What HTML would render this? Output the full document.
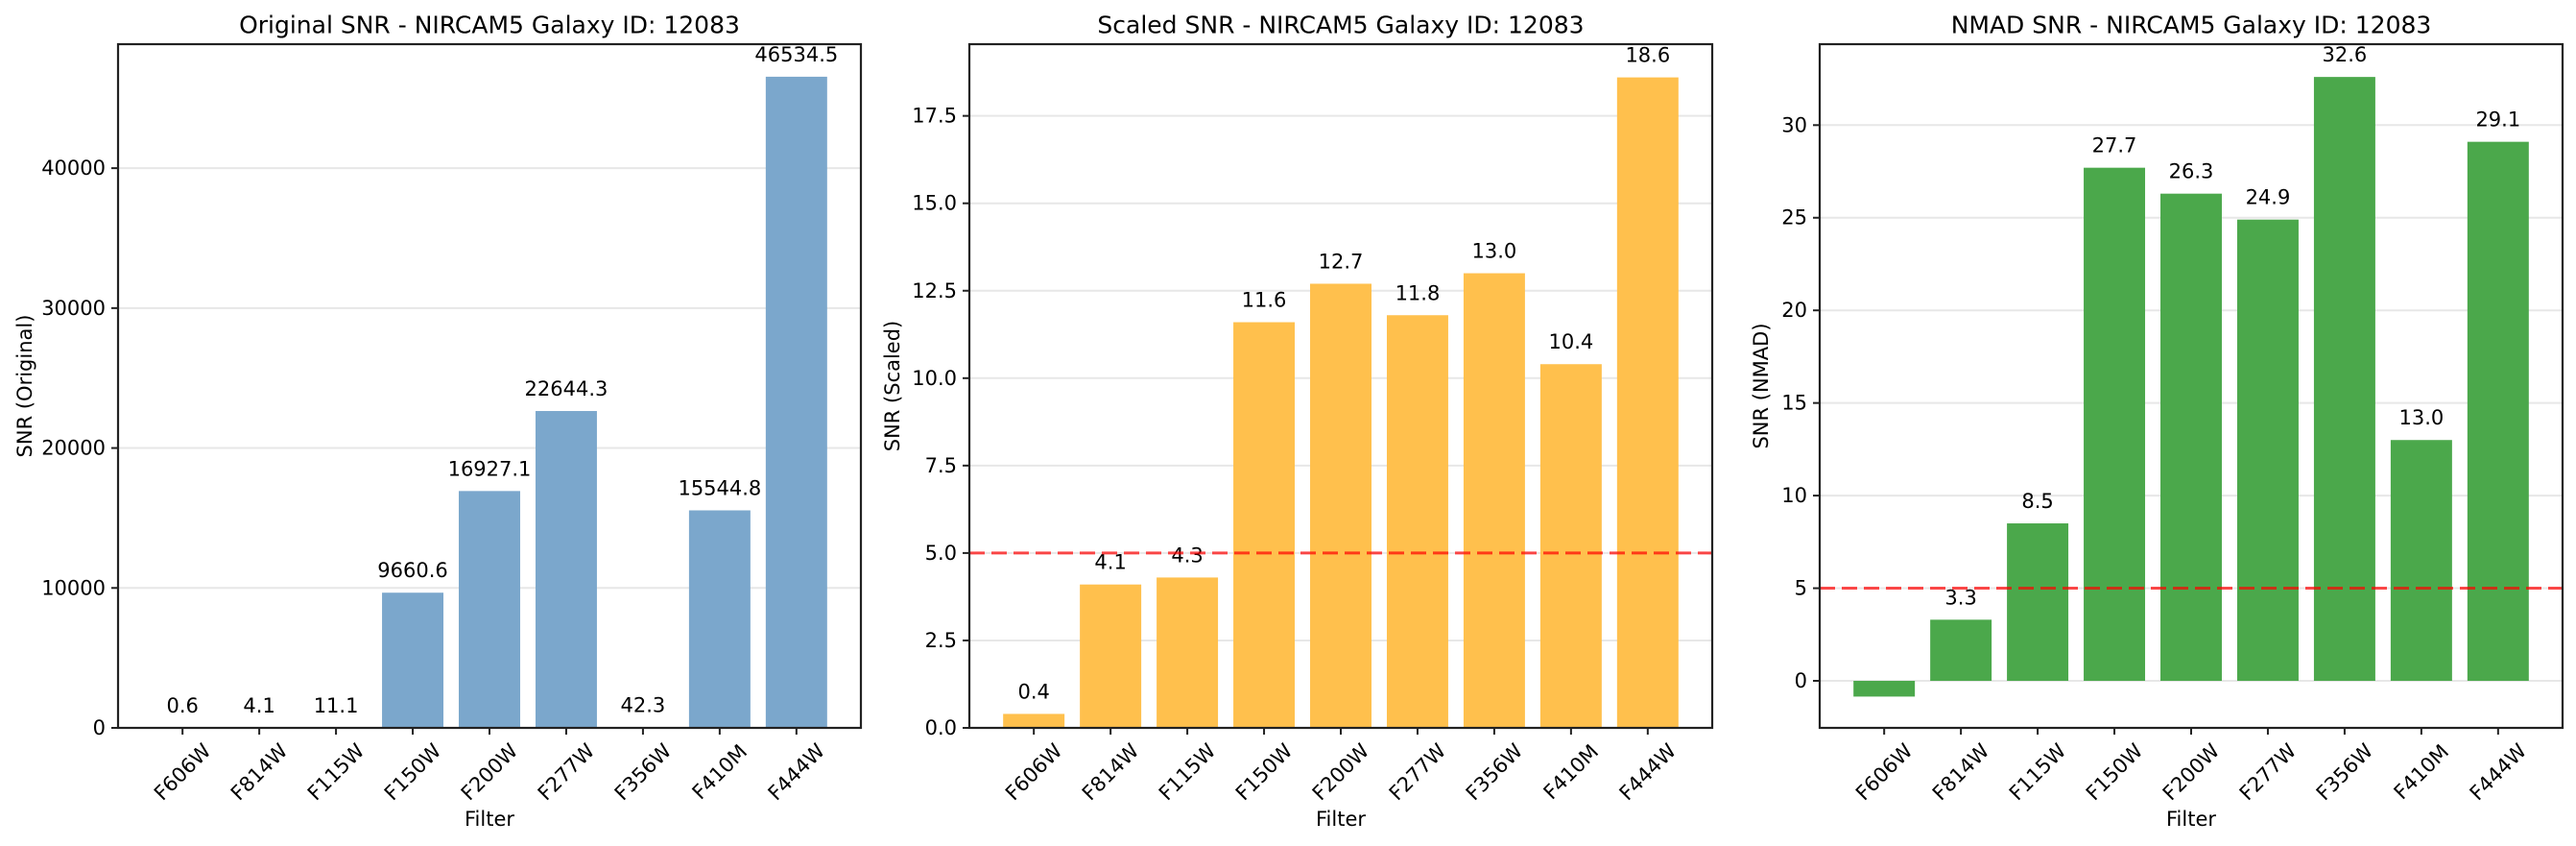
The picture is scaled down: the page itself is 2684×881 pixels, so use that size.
<!DOCTYPE html>
<html><head><meta charset="utf-8"><style>
html,body{margin:0;padding:0;background:#fff;}
svg{display:block;font-family:"DejaVu Sans","Liberation Sans",sans-serif;}
</style></head><body>
<svg id="fig" width="2684" height="881" viewBox="0 0 2684 881" xmlns="http://www.w3.org/2000/svg"></svg>
<script>
const categories = ["F606W","F814W","F115W","F150W","F200W","F277W","F356W","F410M","F444W"];
const originalValues = [0.6, 4.1, 11.1, 9660.6, 16927.1, 22644.3, 42.3, 15544.8, 46534.5];
const scaledValues = [0.4, 4.1, 4.3, 11.6, 12.7, 11.8, 13.0, 10.4, 18.6];
const nmadValues = [-0.85, 3.3, 8.5, 27.7, 26.3, 24.9, 32.6, 13.0, 29.1];
const originalTicks = [0, 10000, 20000, 30000, 40000];
const originalTickLabels = ["0","10000","20000","30000","40000"];
const scaledTicks = [0, 2.5, 5, 7.5, 10, 12.5, 15, 17.5];
const scaledTickLabels = ["0.0","2.5","5.0","7.5","10.0","12.5","15.0","17.5"];
const nmadTicks = [0, 5, 10, 15, 20, 25, 30];
const nmadTickLabels = ["0","5","10","15","20","25","30"];
const threshold = 5;

const NS = "http://www.w3.org/2000/svg";
const svg = document.getElementById('fig');
function mk(tag, attrs, parent){
  const e = document.createElementNS(NS, tag);
  for (const k in attrs) e.setAttribute(k, attrs[k]);
  (parent||svg).appendChild(e);
  return e;
}

function panel(cfg){
  const g = mk('g', {});
  
  
  const L = cfg.left, R = cfg.left + 774, T = 46, B = 758;
  const n = categories.length;
  const x0 = -0.84, x1 = n - 1 + 0.84;
  const xs = v => L + (v - x0) / (x1 - x0) * (R - L);
  const ys = v => B - (v - cfg.ymin) / (cfg.ymax - cfg.ymin) * (B - T);
  const fmt = cfg.fmt;
  // grid
  cfg.ticks.forEach((t, i) => {
    const gl = mk('line', {x1:L, x2:R, y1:ys(t), y2:ys(t), stroke:'#b0b0b0', 'stroke-opacity':0.3, 'stroke-width':2}, g);
    
    
  });
  // bars
  cfg.values.forEach((v, i) => {
    const cx = xs(i), w = 0.8 * (R - L) / (x1 - x0);
    const yt = ys(Math.max(v, 0)), yb = ys(Math.min(v, 0));
    const r = mk('rect', {x:cx - w/2, y:yt, width:w, height:Math.max(yb - yt, 0), fill:cfg.color}, g);
    
    
    if (v >= 0) {
      const t = mk('text', {x:cx, y:ys(v) - 23, 'font-size':21, 'text-anchor':'middle', 'dominant-baseline':'central', fill:'#000'}, g);
      t.textContent = v.toFixed(1);
      
      
    }
  });
  // threshold
  if (cfg.threshold) {
    const tl = mk('line', {x1:L, x2:R, y1:ys(threshold), y2:ys(threshold), stroke:'#ff0000', 'stroke-opacity':0.7, 'stroke-width':3, 'stroke-dasharray':'16 7'}, g);
    
    
  }
  // frame
  const fr = mk('rect', {x:L, y:T, width:R-L, height:B-T, fill:'none', stroke:'#222', 'stroke-width':2.2}, g);
  
  
  // y ticks
  cfg.ticks.forEach((t, i) => {
    mk('line', {x1:L-7, x2:L, y1:ys(t), y2:ys(t), stroke:'#222', 'stroke-width':2}, g);
    const tx = mk('text', {x:L-13, y:ys(t), 'font-size':21, 'text-anchor':'end', 'dominant-baseline':'central', fill:'#000'}, g);
    tx.textContent = cfg.tickLabels[i];
    
    
  });
  // x ticks
  categories.forEach((c, i) => {
    const cx = xs(i);
    mk('line', {x1:cx, x2:cx, y1:B, y2:B+7, stroke:'#222', 'stroke-width':2}, g);
    const tx = mk('text', {x:0, y:0, 'font-size':21, 'text-anchor':'middle', 'dominant-baseline':'central', fill:'#000', transform:`translate(${cx},${B+46}) rotate(-45)`}, g);
    tx.textContent = c;
    
    
  });
  const xl = mk('text', {x:(L+R)/2, y:853, 'font-size':21, 'text-anchor':'middle', 'dominant-baseline':'central'}, g);
  xl.textContent = 'Filter';
  
  
  const yl = mk('text', {x:0, y:0, 'font-size':21, 'text-anchor':'middle', 'dominant-baseline':'central', transform:`translate(${cfg.ylx},${(T+B)/2}) rotate(-90)`}, g);
  yl.textContent = cfg.ylabel;
  
  
  const ti = mk('text', {x:(L+R)/2, y:26, 'font-size':25, 'text-anchor':'middle', 'dominant-baseline':'central'}, g);
  ti.textContent = cfg.title;
  
  
}

panel({name:'original', left:123, ymin:0, ymax:46534.5*1.05, values:originalValues, ticks:originalTicks, tickLabels:originalTickLabels, color:'#7ba7cc', threshold:false, ylabel:'SNR (Original)', ylx:26, title:'Original SNR - NIRCAM5 Galaxy ID: 12083'});
panel({name:'scaled', left:1010, ymin:0, ymax:19.55, values:scaledValues, ticks:scaledTicks, tickLabels:scaledTickLabels, color:'#ffc04d', threshold:true, ylabel:'SNR (Scaled)', ylx:930, title:'Scaled SNR - NIRCAM5 Galaxy ID: 12083'});
panel({name:'nmad', left:1896, ymin:-2.54, ymax:34.37, values:nmadValues, ticks:nmadTicks, tickLabels:nmadTickLabels, color:'#4ba84b', threshold:true, ylabel:'SNR (NMAD)', ylx:1835, title:'NMAD SNR - NIRCAM5 Galaxy ID: 12083'});
</script>
</body></html>
